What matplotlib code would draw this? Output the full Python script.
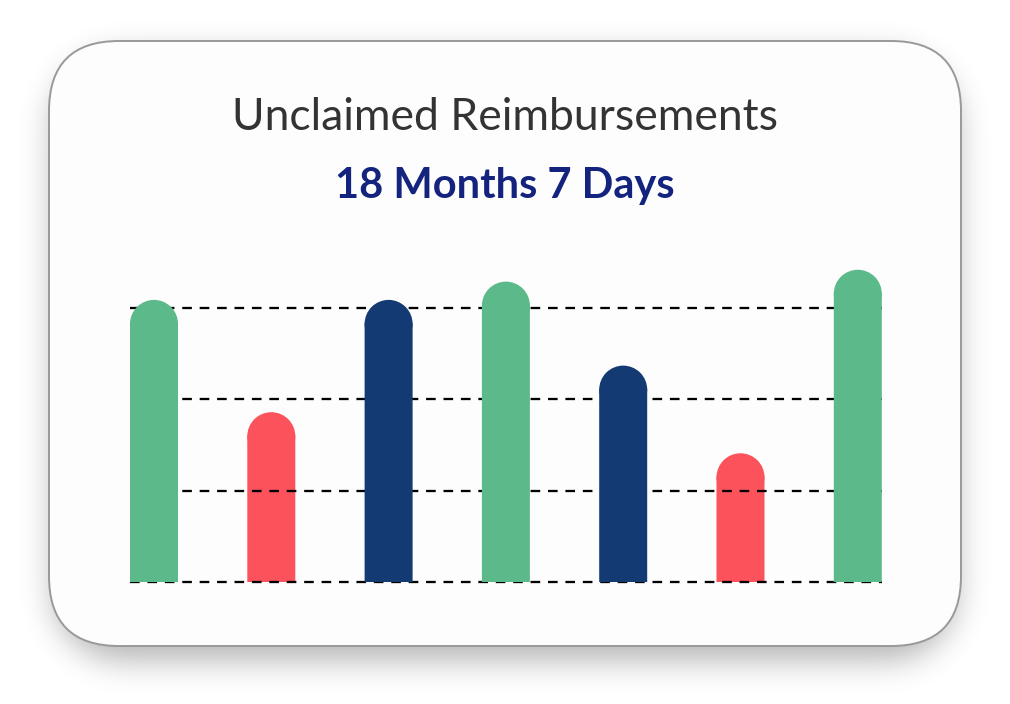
import numpy as np
import matplotlib.pyplot as plt
from matplotlib.patches import FancyBboxPatch, Ellipse

# Data
categories = ["A", "B", "C", "D", "E", "F", "G"]
values = [3.09, 1.86, 3.09, 3.29, 2.37, 1.41, 3.42]
colors = ["#5CB98A", "#FB525B", "#143A73", "#5CB98A", "#143A73", "#FB525B", "#5CB98A"]
grid_levels = [0, 1, 2, 3]
title = "Unclaimed Reimbursements"
subtitle = "18 Months 7 Days"

W, H = 1010, 704
fig = plt.figure(figsize=(W / 100, H / 100), dpi=100)
fig.patch.set_facecolor("white")

# Background layer in pixel coordinates for the card and its shadow
bg = fig.add_axes([0, 0, 1, 1])
bg.set_xlim(0, W)
bg.set_ylim(H, 0)
bg.axis("off")

cx0, cy0, cx1, cy1 = 49, 41, 961, 646
rad = 70


def rounded_mask(x0, y0, x1, y1, r):
    yy, xx = np.mgrid[0:H, 0:W] + 0.5
    dx = np.maximum(np.maximum(x0 + r - xx, xx - (x1 - r)), 0)
    dy = np.maximum(np.maximum(y0 + r - yy, yy - (y1 - r)), 0)
    inside = (xx >= x0) & (xx <= x1) & (yy >= y0) & (yy <= y1)
    return (inside & (dx ** 2 + dy ** 2 <= r ** 2)).astype(float)


def blur(img, sigma):
    k = np.arange(-3 * sigma, 3 * sigma + 1)
    g = np.exp(-k ** 2 / (2 * sigma ** 2))
    g /= g.sum()
    img = np.apply_along_axis(lambda m: np.convolve(m, g, mode="same"), 0, img)
    img = np.apply_along_axis(lambda m: np.convolve(m, g, mode="same"), 1, img)
    return img


# soft drop shadow
shadow = blur(rounded_mask(cx0 + 4, cy0 + 14, cx1 - 4, cy1 + 14, rad), 16) * 0.3
rgba = np.zeros((H, W, 4))
rgba[..., 3] = shadow
bg.imshow(rgba, extent=(0, W, H, 0), interpolation="bilinear", zorder=0)
bg.set_xlim(0, W)
bg.set_ylim(H, 0)

card = FancyBboxPatch((cx0, cy0), cx1 - cx0, cy1 - cy0,
                      boxstyle=f"round,pad=0,rounding_size={rad}",
                      facecolor="#FDFDFD", edgecolor="#999999", linewidth=1.4, zorder=1)
bg.add_patch(card)

bg.text(505, 118, title, ha="center", va="center", fontsize=32,
        color="#333333", family="Lato", zorder=2)
bg.text(505, 186, subtitle, ha="center", va="center", fontsize=30,
        color="#13237E", family="Lato", fontweight="bold", zorder=2)

# Chart axes: category spacing 117.3 px, grid spacing 91.3 px
step_x, step_y = 117.3, 91.3
base_px, top_px = 582, 255
left_px = 154 - step_x / 2
n = len(categories)
ax = fig.add_axes([left_px / W, (H - base_px) / H, n * step_x / W, (base_px - top_px) / H])
ax.set_xlim(-0.5, n - 0.5)
ax.set_ylim(0, (base_px - top_px) / step_y)
ax.axis("off")
ax.patch.set_alpha(0)

bar_w = 48 / step_x
cap_h = 48 / step_y
x = np.arange(n)

gx0 = -0.5 + (130 - left_px) / step_x
gx1 = -0.5 + (882 - left_px) / step_x
ax.hlines(grid_levels, gx0, gx1, colors="black", linestyles=(0, (4.2, 3.4)),
          linewidth=1.65, zorder=2, clip_on=False)

for xi, v, c in zip(x, values, colors):
    z = 1 if c == "#FB525B" else 3
    bars = ax.bar(xi, v - cap_h / 2 + 0.01, width=bar_w, color=c, zorder=z, linewidth=0)
    for b in bars:
        b.set_snap(False)
    ax.add_patch(Ellipse((xi, v - cap_h / 2), bar_w, cap_h, facecolor=c,
                         edgecolor="none", zorder=z))

fig.savefig("out.png", dpi=100)
